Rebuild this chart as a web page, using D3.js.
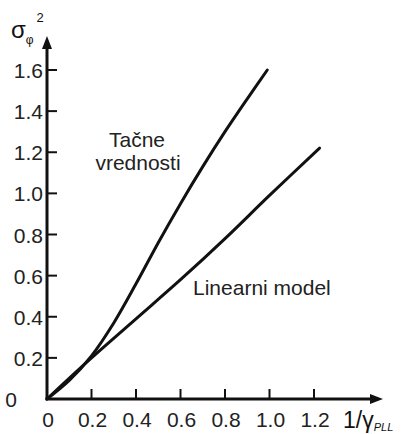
<!DOCTYPE html>
<html>
<head>
<meta charset="utf-8">
<script src="https://cdn.jsdelivr.net/npm/d3@7"></script>
<style>
  body { margin: 0; background: #fff; }
  svg { display: block; font-family: "Liberation Sans", Arial, sans-serif; }
</style>
</head>
<body>
<svg id="chart" width="408" height="434"></svg>
<script>
// podaci ocitani sa slike
const xTicks = [0, 0.2, 0.4, 0.6, 0.8, 1.0, 1.2];
const yTicks = [0, 0.2, 0.4, 0.6, 0.8, 1.0, 1.2, 1.4, 1.6];
const xTickLabels = ["0", "0.2", "0.4", "0.6", "0.8", "1.0", "1.2"];
const yTickLabels = ["0", "0.2", "0.4", "0.6", "0.8", "1.0", "1.2", "1.4", "1.6"];

// Tacne vrednosti
const exactX = [0, 0.1, 0.2, 0.3, 0.4, 0.5, 0.6, 0.7, 0.8, 0.9, 0.99];
const exactY = [0, 0.09, 0.21, 0.37, 0.56, 0.76, 0.95, 1.13, 1.30, 1.46, 1.60];

// Linearni model
const linX = [0, 0.2, 0.4, 0.6, 0.8, 1.0, 1.225];
const linY = [0, 0.2, 0.39, 0.58, 0.78, 0.99, 1.22];

const svg = d3.select("#chart");
const x0 = 47, y0 = 399;

const xScale = d3.scaleLinear().domain([0, 1.2]).range([x0, 314]);
const yScale = d3.scaleLinear().domain([0, 1.6]).range([y0, 70]);

const ink = "#111";

// ose
svg.append("line")
    .attr("x1", x0).attr("y1", y0)
    .attr("x2", x0).attr("y2", 46)
    .attr("stroke", ink).attr("stroke-width", 3);
svg.append("path")
    .attr("d", `M${x0},36 L${x0 - 5},49 L${x0 + 5},49 Z`)
    .attr("fill", ink);

svg.append("line")
    .attr("x1", x0 - 1.5).attr("y1", y0)
    .attr("x2", 372).attr("y2", y0)
    .attr("stroke", ink).attr("stroke-width", 3);
svg.append("path")
    .attr("d", `M383,${y0} L370,${y0 - 5} L370,${y0 + 5} Z`)
    .attr("fill", ink);

// podeoci
const yAxis = svg.append("g");
yTicks.forEach((t, i) => {
    if (i > 0) {
        yAxis.append("line")
            .attr("x1", x0).attr("x2", x0 + 10)
            .attr("y1", yScale(t)).attr("y2", yScale(t))
            .attr("stroke", ink).attr("stroke-width", 2);
    }
    yAxis.append("text")
        .attr("x", i === 0 ? 17 : 43)
        .attr("y", yScale(t) + 8)
        .attr("text-anchor", "end")
        .attr("fill", "#222")
        .style("font-size", "21px")
        .text(yTickLabels[i]);
});

const xAxis = svg.append("g");
xTicks.forEach((t, i) => {
    if (i > 0) {
        xAxis.append("line")
            .attr("x1", xScale(t)).attr("x2", xScale(t))
            .attr("y1", y0).attr("y2", y0 - 10)
            .attr("stroke", ink).attr("stroke-width", 2);
    }
    xAxis.append("text")
        .attr("x", xScale(t) + 1)
        .attr("y", 427)
        .attr("text-anchor", "middle")
        .attr("fill", "#222")
        .style("font-size", "21px")
        .text(xTickLabels[i]);
});

// krive
const line = d3.line()
    .x(d => xScale(d[0]))
    .y(d => yScale(d[1]))
    .curve(d3.curveCatmullRom);

svg.append("path")
    .datum(exactX.map((v, i) => [v, exactY[i]]))
    .attr("fill", "none")
    .attr("stroke", ink)
    .attr("stroke-width", 3)
    .attr("stroke-linecap", "round")
    .attr("d", line);

svg.append("path")
    .datum(linX.map((v, i) => [v, linY[i]]))
    .attr("fill", "none")
    .attr("stroke", ink)
    .attr("stroke-width", 3)
    .attr("stroke-linecap", "round")
    .attr("d", line);

// natpisi
svg.append("text").attr("x", 137).attr("y", 147)
    .attr("text-anchor", "middle").attr("fill", "#222")
    .style("font-size", "21px").text("Tačne");
svg.append("text").attr("x", 138).attr("y", 170)
    .attr("text-anchor", "middle").attr("fill", "#222")
    .style("font-size", "21px").text("vrednosti");
svg.append("text").attr("x", 193).attr("y", 295)
    .attr("fill", "#222")
    .style("font-size", "21px").text("Linearni model");

// oznake osa
const yLab = svg.append("text").attr("x", 11).attr("y", 38)
    .attr("fill", "#111").style("font-size", "24px");
yLab.append("tspan").text("σ");
yLab.append("tspan").attr("dy", 6).style("font-size", "12px").text("φ");
yLab.append("tspan").attr("dx", 3).attr("dy", -22).style("font-size", "13px").text("2");

const xLab = svg.append("text").attr("x", 343).attr("y", 428)
    .attr("fill", "#111").style("font-size", "23px");
xLab.append("tspan").text("1/γ");
xLab.append("tspan").attr("dy", 3).style("font-size", "11px")
    .style("font-style", "italic").text("PLL");
</script>
</body>
</html>
